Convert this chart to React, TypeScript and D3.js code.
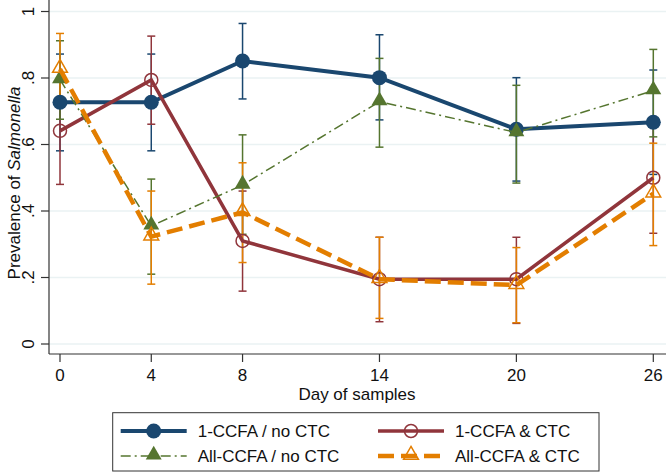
import React from "react";
import * as d3 from "d3";

const days = [0, 4, 8, 14, 20, 26];
const yTicks = [0, 0.2, 0.4, 0.6, 0.8, 1];
const yTickLabels = ["0", ".2", ".4", ".6", ".8", "1"];

// 1-CCFA / no CTC
const oneNoMean = [0.727, 0.727, 0.851, 0.801, 0.646, 0.667];
const oneNoLo = [0.581, 0.581, 0.737, 0.674, 0.49, 0.51];
const oneNoHi = [0.872, 0.872, 0.964, 0.93, 0.801, 0.824];
// 1-CCFA & CTC
const oneCtcMean = [0.641, 0.794, 0.31, 0.195, 0.195, 0.5];
const oneCtcLo = [0.48, 0.661, 0.159, 0.067, 0.062, 0.333];
const oneCtcHi = [0.8, 0.926, 0.46, 0.321, 0.321, 0.67];
// All-CCFA / no CTC
const allNoMean = [0.795, 0.355, 0.478, 0.729, 0.636, 0.762];
const allNoLo = [0.676, 0.21, 0.33, 0.592, 0.484, 0.623];
const allNoHi = [0.912, 0.496, 0.629, 0.859, 0.778, 0.886];
// All-CCFA & CTC
const allCtcMean = [0.827, 0.323, 0.396, 0.195, 0.177, 0.452];
const allCtcLo = [0.72, 0.18, 0.245, 0.077, 0.064, 0.296];
const allCtcHi = [0.934, 0.46, 0.545, 0.321, 0.29, 0.604];

const navy = "#1a476f";
const maroon = "#90353b";
const green = "#55752f";
const orange = "#e37e00";
const font = "'Liberation Sans', Arial, Helvetica, sans-serif";

type Series = {
  name: string;
  mean: number[];
  lo: number[];
  hi: number[];
  color: string;
  width: number;
  dash?: string;
  marker: "circle" | "triangle";
  filled: boolean;
};

const series: Series[] = [
  { name: "1-CCFA / no CTC", mean: oneNoMean, lo: oneNoLo, hi: oneNoHi, color: navy, width: 4, marker: "circle", filled: true },
  { name: "1-CCFA & CTC", mean: oneCtcMean, lo: oneCtcLo, hi: oneCtcHi, color: maroon, width: 3.5, marker: "circle", filled: false },
  { name: "All-CCFA / no CTC", mean: allNoMean, lo: allNoLo, hi: allNoHi, color: green, width: 1.5, dash: "10,4,2,4", marker: "triangle", filled: true },
  { name: "All-CCFA & CTC", mean: allCtcMean, lo: allCtcLo, hi: allCtcHi, color: orange, width: 4.5, dash: "16,7", marker: "triangle", filled: false },
];

const W = 666;
const H = 473;
const axisX = 49;
const axisY = 354;

const Marker = ({ s, cx, cy }: { s: Series; cx: number; cy: number }) => {
  if (s.marker === "circle") {
    return s.filled ? (
      <circle cx={cx} cy={cy} r={7.5} fill={s.color} />
    ) : (
      <circle cx={cx} cy={cy} r={6.5} fill="none" stroke={s.color} strokeWidth={1.5} />
    );
  }
  const sym = d3.symbol().type(d3.symbolTriangle).size(s.filled ? 110 : 95)();
  return s.filled ? (
    <path d={sym || ""} transform={`translate(${cx},${cy - 1})`} fill={s.color} />
  ) : (
    <path d={sym || ""} transform={`translate(${cx},${cy - 1})`} fill="none" stroke={s.color} strokeWidth={1.5} />
  );
};

const App = () => {
  const x = d3.scaleLinear().domain([0, 26]).range([60, 653.3]);
  const y = d3.scaleLinear().domain([0, 1]).range([344, 11.5]);

  const line = (vals: number[]) =>
    d3
      .line<number>()
      .x((_, i) => x(days[i]))
      .y((d) => y(d))(vals) || "";

  const legendRows = [
    { s: series[0], lx: 120.7, ty: 431 },
    { s: series[2], lx: 120.7, ty: 456 },
    { s: series[1], lx: 378, ty: 431 },
    { s: series[3], lx: 378, ty: 456 },
  ];

  return (
    <svg width={W} height={H} style={{ position: "absolute", left: 0, top: 0, background: "#fff" }}>
      {/* gridlines */}
      {yTicks.map((t) => (
        <line key={t} x1={axisX} x2={W} y1={y(t)} y2={y(t)} stroke="#eaf2f3" strokeWidth={1.5} />
      ))}

      {/* axes */}
      <line x1={axisX} x2={axisX} y1={0} y2={axisY} stroke="#333" strokeWidth={1.2} />
      <line x1={axisX} x2={W} y1={axisY} y2={axisY} stroke="#333" strokeWidth={1.2} />
      {yTicks.map((t, i) => (
        <g key={t}>
          <line x1={axisX - 8} x2={axisX} y1={y(t)} y2={y(t)} stroke="#333" strokeWidth={1.2} />
          <text
            transform={`translate(33.5,${y(t)}) rotate(-90)`}
            textAnchor="middle"
            fontFamily={font}
            fontSize={17}
            fill="#111"
          >
            {yTickLabels[i]}
          </text>
        </g>
      ))}
      {days.map((d) => (
        <g key={d}>
          <line x1={x(d)} x2={x(d)} y1={axisY} y2={axisY + 8} stroke="#333" strokeWidth={1.2} />
          <text x={x(d)} y={380.5} textAnchor="middle" fontFamily={font} fontSize={17} fill="#111">
            {d}
          </text>
        </g>
      ))}
      <text x={357} y={400} textAnchor="middle" fontFamily={font} fontSize={17} fill="#111">
        Day of samples
      </text>
      <text transform={`translate(20,183) rotate(-90)`} textAnchor="middle" fontFamily={font} fontSize={17} fill="#111">
        Prevalence of <tspan fontStyle="italic">Salmonella</tspan>
      </text>

      {/* error bars */}
      {series.map((s) => (
        <g key={s.name + "err"} stroke={s.color} strokeWidth={1.5}>
          {days.map((d, i) => (
            <g key={d}>
              <line x1={x(d)} x2={x(d)} y1={y(s.lo[i])} y2={y(s.hi[i])} />
              <line x1={x(d) - 4} x2={x(d) + 4} y1={y(s.lo[i])} y2={y(s.lo[i])} />
              <line x1={x(d) - 4} x2={x(d) + 4} y1={y(s.hi[i])} y2={y(s.hi[i])} />
            </g>
          ))}
        </g>
      ))}

      {/* lines and markers */}
      {series.map((s) => (
        <g key={s.name}>
          <path d={line(s.mean)} fill="none" stroke={s.color} strokeWidth={s.width} strokeDasharray={s.dash} />
          {days.map((d, i) => (
            <Marker key={d} s={s} cx={x(d)} cy={y(s.mean[i])} />
          ))}
        </g>
      ))}

      {/* legend */}
      <rect x={112.7} y={412.7} width={486.3} height={58.3} fill="#fff" stroke="#333" strokeWidth={1} />
      {legendRows.map(({ s, lx, ty }) => (
        <g key={s.name + "leg"}>
          <line x1={lx} x2={lx + 66} y1={ty} y2={ty} stroke={s.color} strokeWidth={s.width} strokeDasharray={s.dash} />
          <Marker s={s} cx={lx + 33} cy={ty} />
          <text x={lx + 77} y={ty + 6} fontFamily={font} fontSize={17} fill="#111">
            {s.name}
          </text>
        </g>
      ))}
    </svg>
  );
};

export default App;
